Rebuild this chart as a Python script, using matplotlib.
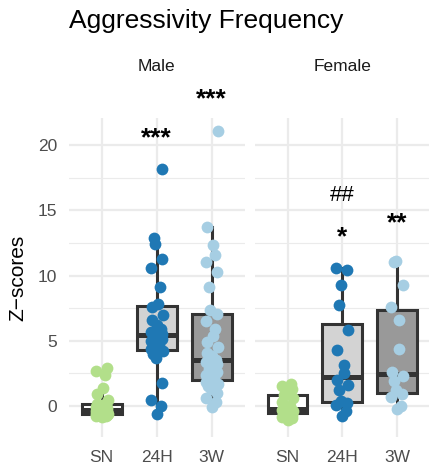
import numpy as np
import matplotlib
matplotlib.use("Agg")
import matplotlib.pyplot as plt

plt.rcParams['font.family'] = ['Liberation Sans', 'DejaVu Sans']

# groups and panels
groups = ["SN", "24H", "3W"]
sexes = ["Male", "Female"]

# z-scores
male_sn = [-0.85, -0.8, -0.75, -0.72, -0.7, -0.66, -0.62, -0.58, -0.52, -0.47,
           -0.42, -0.36, -0.3, -0.24, -0.18, -0.1, -0.02, 0.05, 0.12, 0.45,
           0.95, 1.4, 2.4, 2.7, 2.9]
male_24h = [-0.65, 0.0, 0.45, 1.75, 3.7, 4.0, 4.2, 4.35, 4.6, 4.8, 5.0, 5.15,
            5.3, 5.4, 5.5, 5.7, 5.9, 6.2, 6.6, 7.0, 7.6, 7.8, 9.15, 10.55,
            11.3, 12.4, 12.85, 18.2]
male_3w = [-0.05, 0.3, 0.6, 1.0, 1.3, 1.5, 1.7, 1.85, 2.0, 2.2, 2.4, 2.6, 2.8,
           3.0, 3.2, 3.35, 3.5, 3.8, 4.1, 4.5, 4.9, 5.4, 5.9, 6.5, 7.05, 7.35,
           9.15, 10.3, 11.05, 11.55, 12.35, 13.75, 21.1]
female_sn = [-1.1, -0.95, -0.85, -0.7, -0.55, -0.45, -0.38, -0.3, -0.25, 0.0,
             0.3, 0.6, 0.85, 1.1, 1.3, 1.5, 1.65]
female_24h = [-0.75, -0.4, 0.1, 0.25, 0.35, 1.2, 1.6, 2.0, 2.5, 3.15, 4.3,
              5.8, 7.75, 9.3, 10.4, 10.55]
female_3w = [-0.2, 0.0, 0.7, 0.95, 1.25, 1.9, 2.3, 2.6, 4.4, 6.6, 7.6, 9.3,
             11.0, 11.1]

data = {"Male": [male_sn, male_24h, male_3w],
        "Female": [female_sn, female_24h, female_3w]}

# significance labels
star_labels = {"Male": ["", "***", "***"], "Female": ["", "*", "**"]}
star_y = {"Male": [0, 20.5, 23.5], "Female": [0, 12.9, 14.0]}
hash_labels = {"Male": ["", "", ""], "Female": ["", "##", ""]}
hash_y = {"Male": [0, 0, 0], "Female": [0, 16.1, 0]}

point_colors = ["#B2DF8A", "#1F78B4", "#A6CEE3"]
box_fills = ["#FFFFFF", "#D3D3D3", "#999999"]
edge = "#333333"

W, H = 429, 470
fig = plt.figure(figsize=(W / 100, H / 100), dpi=100)

panel_x = [(68.7, 244.7), (254.7, 429.7)]
top_px, bot_px = 118, 437

for k, sex in enumerate(sexes):
    x0, x1 = panel_x[k]
    ax = fig.add_axes([x0 / W, 1 - bot_px / H, (x1 - x0) / W, (bot_px - top_px) / H])

    vals = data[sex]
    bp = ax.boxplot(vals, positions=[1, 2, 3], widths=0.73, patch_artist=True,
                    showfliers=False, showcaps=False, whis=1.5,
                    boxprops=dict(edgecolor=edge, lw=2.2),
                    whiskerprops=dict(color=edge, lw=2.2),
                    medianprops=dict(color=edge, lw=3.6, solid_capstyle='butt'))
    for patch, fc in zip(bp['boxes'], box_fills):
        patch.set_facecolor(fc)

    for i, v in enumerate(vals):
        n = len(v)
        jit = 0.11 * np.sin(np.arange(n) * 2.39996)
        ax.scatter(i + 1 + jit, v, s=72, color=point_colors[i], zorder=5,
                   linewidths=0, clip_on=False)
        if star_labels[sex][i]:
            ax.text(i + 1, star_y[sex][i], star_labels[sex][i], ha='center',
                    va='center', fontsize=19, fontweight='bold', color='black',
                    clip_on=False)
        if hash_labels[sex][i]:
            ax.text(i + 1, hash_y[sex][i], hash_labels[sex][i], ha='center',
                    va='center', fontsize=16, color='black', clip_on=False)

    ax.set_xlim(0.4, 3.6)
    ax.set_ylim(-2.375, 22.07)
    for s in ax.spines.values():
        s.set_visible(False)
    ax.set_yticks([0, 5, 10, 15, 20])
    ax.set_yticks([2.5, 7.5, 12.5, 17.5], minor=True)
    ax.set_xticks([1, 2, 3])
    ax.set_xticklabels(groups)
    ax.grid(True, which='major', color='#EBEBEB', lw=1.6)
    ax.grid(True, which='minor', axis='y', color='#EBEBEB', lw=0.8)
    ax.set_axisbelow(True)
    ax.tick_params(which='both', length=0)
    ax.tick_params(axis='x', labelsize=12.5, labelcolor='#4D4D4D', pad=9)
    ax.tick_params(axis='y', labelsize=12.5, labelcolor='#4D4D4D', pad=8.5)
    if k == 1:
        ax.set_yticklabels([])

    ax.text(2, 1 + (top_px - 67) / (bot_px - top_px), sex,
            transform=ax.get_xaxis_transform(), ha='center', va='center',
            fontsize=12.5, color='#1A1A1A')

fig.text(68.7 / W, 1 - 28 / H, "Aggressivity Frequency", ha='left',
         va='baseline', fontsize=19, color='black')
fig.text(18 / W, 1 - 278 / H, "Z\u2212scores", rotation=90, ha='center',
         va='center', fontsize=15, color='black')

fig.savefig("out.png", dpi=100)
